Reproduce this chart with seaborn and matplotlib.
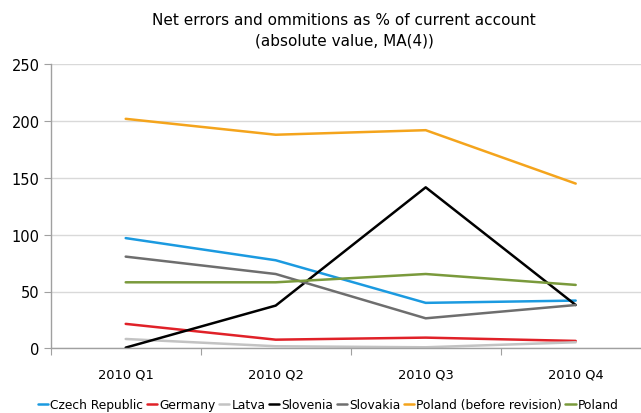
import matplotlib
matplotlib.use("Agg")
import matplotlib.pyplot as plt
import seaborn as sns
import pandas as pd
import numpy as np

quarters = ["2010 Q1", "2010 Q2", "2010 Q3", "2010 Q4"]
czech = [97, 77.5, 40, 42]
germany = [21.5, 7.6, 9.4, 6.5]
latvia = [8.2, 1.8, 0.9, 5.3]
slovenia = [0.6, 37.6, 141.7, 38.1]
slovakia = [80.7, 65.4, 26.4, 38.1]
poland_before = [202, 188, 192, 145]
poland = [58.1, 58.1, 65.4, 55.8]

series = {
    "Czech Republic": czech,
    "Germany": germany,
    "Latva": latvia,
    "Slovenia": slovenia,
    "Slovakia": slovakia,
    "Poland (before revision)": poland_before,
    "Poland": poland,
}
colors = ["#1b9ae0", "#e02128", "#c3c3c3", "#000000", "#6e6e6e", "#f4a41c", "#7a9a3c"]

rows = []
for name, vals in series.items():
    for i, v in enumerate(vals):
        rows.append({"pos": i, "value": v, "country": name})
df = pd.DataFrame(rows)

sns.set_style("white")
plt.rcParams["font.family"] = ["DejaVu Sans"]
plt.rcParams["text.color"] = "black"
plt.rcParams["xtick.color"] = "black"
plt.rcParams["ytick.color"] = "black"

fig = plt.figure(figsize=(6.41, 4.14), dpi=100)
ax = fig.add_axes([50.7 / 641, 1 - 349.3 / 414, 600 / 641, 284 / 414])

sns.lineplot(data=df, x="pos", y="value", hue="country", palette=colors,
             hue_order=list(series.keys()), linewidth=1.8, ax=ax, legend=False)

ax.set_xlim(-0.5, 3.5)
ax.set_ylim(0, 250)
ax.set_yticks(np.arange(0, 251, 50))
ax.yaxis.grid(True, color="#d9d9d9", linewidth=1)
ax.set_axisbelow(True)
ax.set_xticks([-0.5, 0.5, 1.5, 2.5, 3.5])
ax.set_xticklabels([])
ax.set_xticks(range(len(quarters)), minor=True)
ax.set_xticklabels(quarters, minor=True)
ax.tick_params(axis="x", which="major", length=5, color="#a0a0a0", direction="out", bottom=True)
ax.tick_params(axis="x", which="minor", length=0, pad=14, labelsize=9.4, labelcolor="black")
ax.tick_params(axis="y", length=5, color="#a0a0a0", direction="out", left=True, labelsize=10.5, pad=3,
               labelcolor="black")
for s in ["top", "right"]:
    ax.spines[s].set_visible(False)
for s in ["left", "bottom"]:
    ax.spines[s].set_color("#a0a0a0")
    ax.spines[s].set_linewidth(1)
ax.set_xlabel("")
ax.set_ylabel("")

fig.text(344 / 641, 1 - 31 / 414, "Net errors and ommitions as % of current account\n(absolute value, MA(4))",
         ha="center", va="center", fontsize=11, linespacing=1.45, color="black")

handles = [plt.Line2D([], [], color=c, linewidth=1.8) for c in colors]
fig.legend(handles, list(series.keys()), loc="center left", bbox_to_anchor=(38 / 641, 1 - 406 / 414),
           ncol=7, frameon=False, fontsize=8.8, handlelength=0.85, handletextpad=0.15,
           columnspacing=0.3, borderaxespad=0, borderpad=0, labelcolor="black")

fig.savefig("out.png", dpi=100)
